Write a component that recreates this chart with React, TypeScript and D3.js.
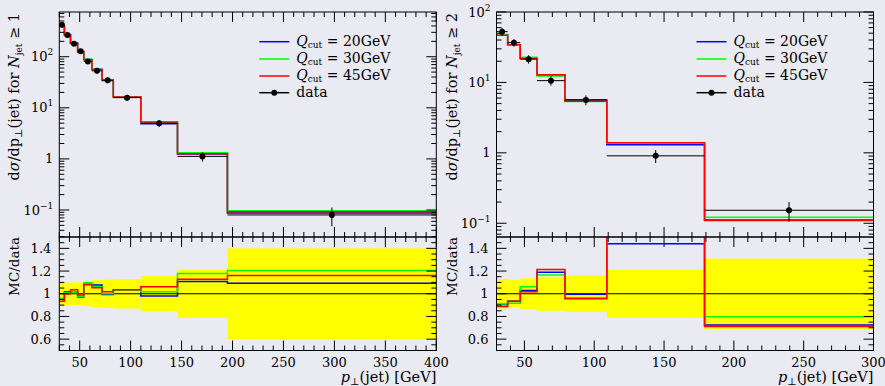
import React from 'react';
import * as d3 from 'd3';

// N_jet >= 1
const edgesN1 = [30, 35, 41, 48, 54, 62, 72, 83, 110, 146, 195, 400];
const dataN1 = [420, 266, 180, 128, 81, 53, 34.5, 15.8, 4.98, 1.12, 0.08];
const errN1 = [0.1, 0.1, 0.1, 0.1, 0.11, 0.12, 0.125, 0.13, 0.155, 0.21, 0.4];
const q20N1 = [400, 270.8, 182.5, 124.2, 87.7, 57.1, 34.3, 16.27, 4.88, 1.24, 0.0874];
const q30N1 = [402, 268.7, 181.8, 124.8, 88.9, 56.3, 34.5, 16.27, 5.07, 1.319, 0.0963];
const q45N1 = [392.3, 266, 186.3, 126.7, 87.5, 55.8, 35.1, 16.35, 5.29, 1.262, 0.0928];

// N_jet >= 2
const edgesN2 = [30, 38, 47, 59, 79, 109, 179, 300];
const dataN2 = [52.6, 36.7, 21.4, 10.6, 5.65, 0.906, 0.153];
const errN2 = [0.13, 0.12, 0.135, 0.15, 0.16, 0.21, 0.31];
const q20N2 = [47.6, 34.3, 22.0, 12.6, 5.62, 1.305, 0.111];
const q30N2 = [47.9, 33.6, 22.7, 12.35, 5.38, 1.377, 0.122];
const q45N2 = [46.7, 34.3, 21.8, 12.86, 5.42, 1.386, 0.109];

const qcutLabels = ['20GeV', '30GeV', '45GeV'];
const qcutColors = ['#0000ff', '#00ff00', '#ff0000'];
const xTicksN1 = [50, 100, 150, 200, 250, 300, 350, 400];
const xTicksN2 = [50, 100, 150, 200, 250, 300];
const ratioTicks = [0.6, 0.8, 1, 1.2, 1.4];

const BG = '#eaeaf2';
const FONT = 'DejaVu Serif';
const TOP = 12, MID = 237, BOT = 350.5;

const Panel = ({ id, x0, x1, edges, data, err, mcs, yDomain, xTicks, njet }) => {
  const x = d3.scaleLinear().domain([edges[0], edges[edges.length - 1]]).range([x0, x1]);
  const y = d3.scaleLog().domain(yDomain).range([MID, TOP]);
  const yr = d3.scaleLinear().domain([0.5, 1.5]).range([BOT, MID]);

  const step = (vals, sy) => {
    const pts = [];
    vals.forEach((v, i) => { pts.push([edges[i], v]); pts.push([edges[i + 1], v]); });
    return d3.line().x(d => x(d[0])).y(d => sy(d[1]))(pts);
  };

  // x ticks every 10, major every 50
  const xMinor = d3.range(edges[0], edges[edges.length - 1] + 1, 10).filter(v => v % 50 !== 0);

  // log ticks
  const logTicks = [];
  const [lo, hi] = yDomain;
  for (let k = Math.floor(Math.log10(lo)); k <= Math.ceil(Math.log10(hi)); k++) {
    for (let m = 1; m <= 9; m++) {
      const v = m * Math.pow(10, k);
      if (v >= lo * 0.999 && v <= hi * 1.001) logTicks.push({ v, major: m === 1, k });
    }
  }
  const rMinor = d3.range(0.55, 1.5, 0.05).filter(v => Math.abs(Math.round(v * 5) - v * 5) > 0.01);

  const logLabel = (k) => {
    if (k === 0) return <tspan>1</tspan>;
    return (
      <>
        <tspan>10</tspan>
        <tspan dy="-6" fontSize="9">{k < 0 ? '\u2212' + (-k) : k}</tspan>
      </>
    );
  };

  const legY = [41.7, 59, 76, 92.7];
  const lx = x0 + 200;

  return (
    <g fontFamily={FONT} fill="black">
      <defs>
        <clipPath id={`clipr${id}`}>
          <rect x={x0} y={MID} width={x1 - x0} height={BOT - MID} />
        </clipPath>
        <clipPath id={`clipm${id}`}>
          <rect x={x0} y={TOP} width={x1 - x0} height={MID - TOP} />
        </clipPath>
      </defs>

      {/* main panel */}
      <g clipPath={`url(#clipm${id})`}>
        {mcs.map((mc, j) => (
          <path key={j} d={step(mc, y)} fill="none" stroke={qcutColors[j]} strokeWidth={1.5} />
        ))}
        {data.map((d, i) => {
          const cx = x((edges[i] + edges[i + 1]) / 2);
          return (
            <g key={i} stroke="black" strokeWidth={1}>
              <line x1={x(edges[i])} x2={x(edges[i + 1])} y1={y(d)} y2={y(d)} />
              <line x1={cx} x2={cx} y1={y(d * (1 - err[i]))} y2={y(d * (1 + err[i]))} />
              <circle cx={cx} cy={y(d)} r={3} fill="black" stroke="none" />
            </g>
          );
        })}
      </g>

      {/* ratio panel */}
      <g clipPath={`url(#clipr${id})`}>
        {err.map((e, i) => (
          <rect key={i} x={x(edges[i])} width={x(edges[i + 1]) - x(edges[i])}
            y={yr(1 + e)} height={yr(1 - e) - yr(1 + e)} fill="#ffff00" />
        ))}
        <line x1={x0} x2={x1} y1={yr(1)} y2={yr(1)} stroke="black" strokeWidth={1} />
        {mcs.map((mc, j) => (
          <path key={j} d={step(mc.map((v, i) => v / data[i]), yr)} fill="none"
            stroke={qcutColors[j]} strokeWidth={1.5} />
        ))}
      </g>

      {/* frames */}
      <rect x={x0} y={TOP} width={x1 - x0} height={MID - TOP} fill="none" stroke="black" strokeWidth={1} />
      <rect x={x0} y={MID} width={x1 - x0} height={BOT - MID} fill="none" stroke="black" strokeWidth={1} />

      {/* ticks, inward on every edge */}
      <g stroke="black" strokeWidth={1}>
        {[...xTicks.map(v => ({ v, L: 10 })), ...xMinor.map(v => ({ v, L: 5 }))].map(({ v, L }, i) => (
          <g key={i}>
            <line x1={x(v)} x2={x(v)} y1={TOP} y2={TOP + L} />
            <line x1={x(v)} x2={x(v)} y1={MID} y2={MID - L} />
            <line x1={x(v)} x2={x(v)} y1={MID} y2={MID + L} />
            <line x1={x(v)} x2={x(v)} y1={BOT} y2={BOT - L} />
          </g>
        ))}
        {logTicks.map((t, i) => {
          const L = t.major ? 10 : 5;
          return (
            <g key={i}>
              <line x1={x0} x2={x0 + L} y1={y(t.v)} y2={y(t.v)} />
              <line x1={x1} x2={x1 - L} y1={y(t.v)} y2={y(t.v)} />
            </g>
          );
        })}
        {[...ratioTicks.map(v => ({ v, L: 10 })), ...rMinor.map(v => ({ v, L: 5 }))].map(({ v, L }, i) => (
          <g key={i}>
            <line x1={x0} x2={x0 + L} y1={yr(v)} y2={yr(v)} />
            <line x1={x1} x2={x1 - L} y1={yr(v)} y2={yr(v)} />
          </g>
        ))}
      </g>

      {/* tick labels */}
      <g fontSize={13}>
        {logTicks.filter(t => t.major).map((t, i) => (
          <text key={i} x={x0 - 6} y={y(t.v)} dy="0.35em" textAnchor="end">{logLabel(t.k)}</text>
        ))}
        {ratioTicks.map((v, i) => (
          <text key={i} x={x0 - 8} y={yr(v)} dy="0.35em" textAnchor="end">{String(v)}</text>
        ))}
        {xTicks.map((v, i) => (
          <text key={i} x={x(v)} y={366.5} textAnchor="middle">{v}</text>
        ))}
      </g>

      {/* axis titles */}
      <text x={x1} y={382} textAnchor="end" fontSize={14.5}>
        <tspan fontStyle="italic">p</tspan>
        <tspan fontSize={10} dy="3">{'\u22a5'}</tspan>
        <tspan dy="-3">(jet) [GeV]</tspan>
      </text>
      <text transform={`translate(${x0 - 40},${TOP + 1}) rotate(-90)`} textAnchor="end" fontSize={14.5}>
        <tspan>d</tspan>
        <tspan fontStyle="italic">{'\u03c3'}</tspan>
        <tspan>/dp</tspan>
        <tspan fontSize={10} dy="3">{'\u22a5'}</tspan>
        <tspan dy="-3">(jet) for </tspan>
        <tspan fontStyle="italic">N</tspan>
        <tspan fontSize={9} dy="3">jet</tspan>
        <tspan dy="-3">{` \u2265 ${njet}`}</tspan>
      </text>
      <text transform={`translate(${x0 - 40},${MID}) rotate(-90)`} textAnchor="end" fontSize={13.5}>
        MC/data
      </text>

      {/* legend */}
      <g fontSize={14}>
        {qcutLabels.map((lab, j) => (
          <g key={j}>
            <line x1={lx} x2={lx + 30} y1={legY[j]} y2={legY[j]} stroke={qcutColors[j]} strokeWidth={1.5} />
            <text x={lx + 37} y={legY[j]} dy="0.32em">
              <tspan fontStyle="italic">Q</tspan>
              <tspan fontSize={9} dy="2">cut</tspan>
              <tspan dy="-2">{` = ${lab}`}</tspan>
            </text>
          </g>
        ))}
        <line x1={lx} x2={lx + 30} y1={legY[3]} y2={legY[3]} stroke="black" strokeWidth={1.5} />
        <circle cx={lx + 15} cy={legY[3]} r={3} fill="black" />
        <text x={lx + 37} y={legY[3]} dy="0.32em">data</text>
      </g>
    </g>
  );
};

export default function App() {
  return (
    <svg width={885} height={386} style={{ position: 'absolute', left: 0, top: 0 }}>
      <rect x={0} y={0} width={885} height={386} fill={BG} />
      <Panel id="a" x0={59.3} x1={436.3} edges={edgesN1} data={dataN1} err={errN1}
        mcs={[q20N1, q30N1, q45N1]} yDomain={[0.0296, 750]} xTicks={xTicksN1} njet={1} />
      <Panel id="b" x0={496.5} x1={873.5} edges={edgesN2} data={dataN2} err={errN2}
        mcs={[q20N2, q30N2, q45N2]} yDomain={[0.0638, 100]} xTicks={xTicksN2} njet={2} />
    </svg>
  );
}
